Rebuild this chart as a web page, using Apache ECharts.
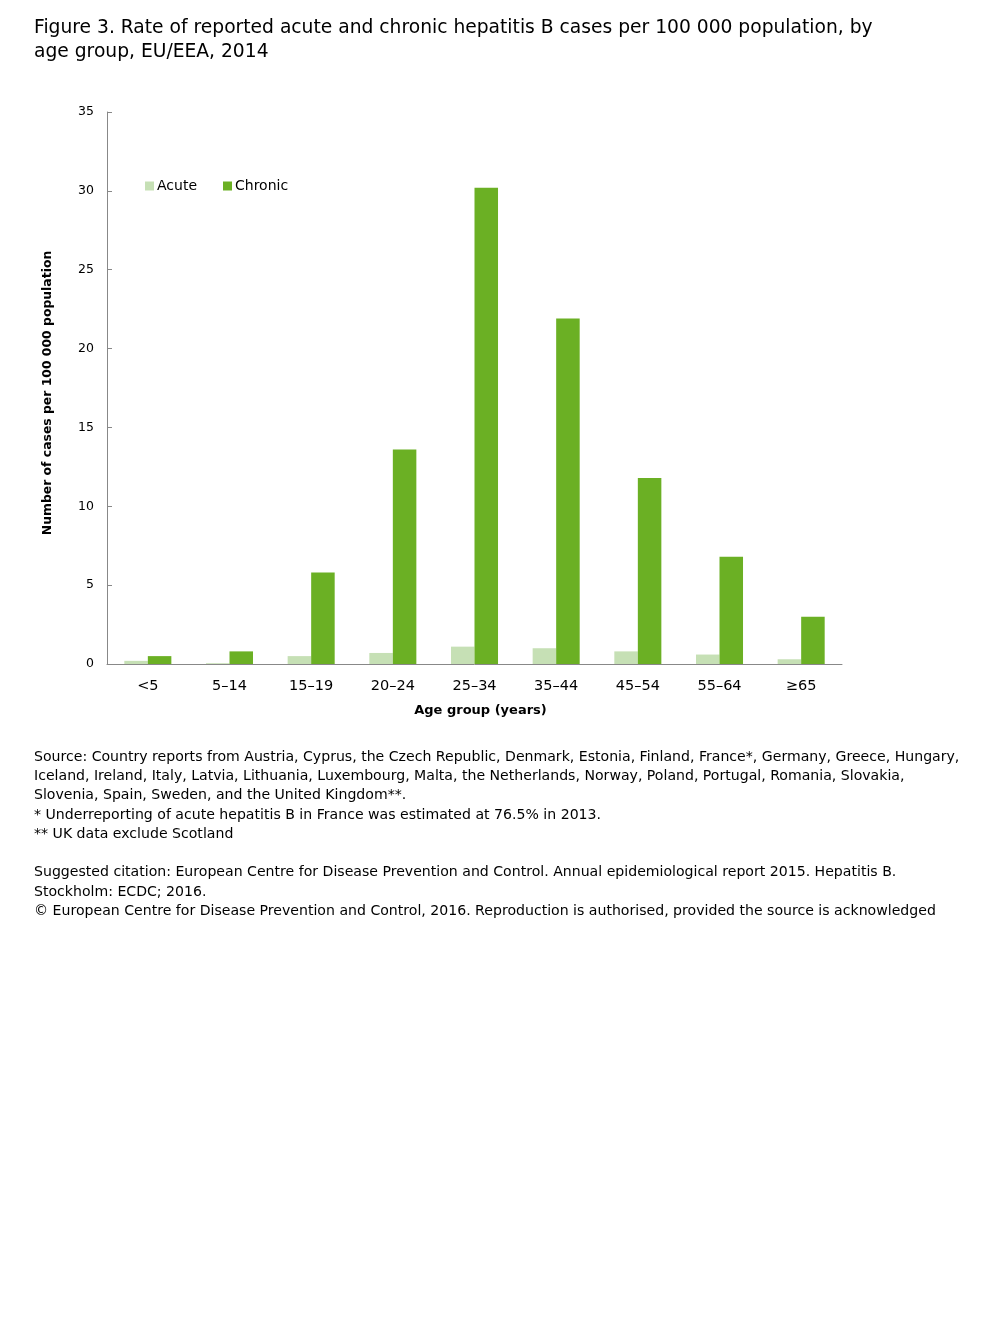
<!DOCTYPE html>
<html><head><meta charset="utf-8">
<script src="https://cdn.jsdelivr.net/npm/echarts@6/dist/echarts.min.js"></script>
<style>html,body{margin:0;padding:0;background:#fff}#c{width:1008px;height:1344px}</style>
</head><body><div id="c"></div>
<script>
const categories = ['<5','5–14','15–19','20–24','25–34','35–44','45–54','55–64','≥65'];
const acute = [0.2,0.05,0.5,0.7,1.1,1.0,0.8,0.6,0.3];
const chronic = [0.5,0.8,5.8,13.6,30.2,21.9,11.8,6.8,3.0];
const yTicks = {min:0,max:35,interval:5};
const titleLines = ['Figure 3. Rate of reported acute and chronic hepatitis B cases per 100 000 population, by','age group, EU/EEA, 2014'];
const noteLines = [
 'Source: Country reports from Austria, Cyprus, the Czech Republic, Denmark, Estonia, Finland, France*, Germany, Greece, Hungary,',
 'Iceland, Ireland, Italy, Latvia, Lithuania, Luxembourg, Malta, the Netherlands, Norway, Poland, Portugal, Romania, Slovakia,',
 'Slovenia, Spain, Sweden, and the United Kingdom**.',
 '* Underreporting of acute hepatitis B in France was estimated at 76.5% in 2013.',
 '** UK data exclude Scotland',
 '',
 'Suggested citation: European Centre for Disease Prevention and Control. Annual epidemiological report 2015. Hepatitis B.',
 'Stockholm: ECDC; 2016.',
 '© European Centre for Disease Prevention and Control, 2016. Reproduction is authorised, provided the source is acknowledged'
];
const FONT = 'DejaVu Sans';
const chart = echarts.init(document.getElementById('c'));
const graphics = [];
titleLines.forEach((t,i)=>graphics.push({type:'text',x:34,y:28+i*24,style:{text:t,font:'18.7px "'+FONT+'"',fill:'#000',verticalAlign:'middle'}}));
noteLines.forEach((t,i)=>graphics.push({type:'text',x:34,y:757+i*19.3,style:{text:t,font:'14.1px "'+FONT+'"',fill:'#000',verticalAlign:'middle'}}));
graphics.push({type:'text',x:48,y:393,rotation:Math.PI/2,style:{text:'Number of cases per 100 000 population',font:'bold 12.4px "'+FONT+'"',fill:'#000',align:'center',verticalAlign:'middle'}});
chart.setOption({
  animation:false,
  textStyle:{fontFamily:FONT},
  graphic:graphics,
  legend:{left:140,top:174,itemWidth:9,itemHeight:9,itemGap:26,icon:'rect',
    textStyle:{fontSize:14,color:'#000',fontFamily:FONT,padding:[0,0,0,-2]},data:['Acute','Chronic']},
  grid:{left:107,right:166,top:112,bottom:680,containLabel:false},
  xAxis:{type:'category',data:categories,
    name:'Age group (years)',nameLocation:'middle',nameGap:40,
    nameTextStyle:{fontSize:13,fontWeight:'bold',color:'#000',fontFamily:FONT,padding:[0,0,0,12]},
    axisLine:{lineStyle:{color:'#888'}},
    axisTick:{inside:true,length:5,lineStyle:{color:'#888'}},
    axisLabel:{fontSize:14.5,color:'#000',margin:15,fontFamily:FONT}},
  yAxis:{type:'value',min:yTicks.min,max:yTicks.max,interval:yTicks.interval,
    axisLine:{show:true,lineStyle:{color:'#888'}},
    axisTick:{show:true,inside:true,length:5,lineStyle:{color:'#888'}},
    splitLine:{show:false},
    axisLabel:{fontSize:12.5,color:'#000',margin:13,fontFamily:FONT}},
  series:[
    {name:'Acute',type:'bar',data:acute,barWidth:'28.8%',barGap:'0%',itemStyle:{color:'#c6e0b5'}},
    {name:'Chronic',type:'bar',data:chronic,barWidth:'28.8%',itemStyle:{color:'#6bb024'}}
  ]
});
</script></body></html>
